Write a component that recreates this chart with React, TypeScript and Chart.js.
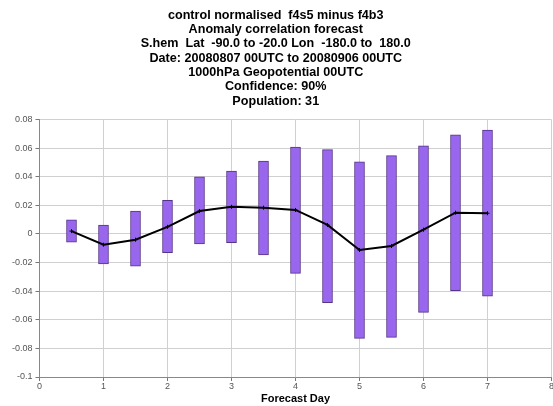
import React, { useEffect, useRef } from "react";
import { Chart, registerables } from "chart.js";

Chart.register(...registerables);

const titleLines = [
  "control normalised  f4s5 minus f4b3",
  "Anomaly correlation forecast",
  "S.hem  Lat  -90.0 to -20.0 Lon  -180.0 to  180.0",
  "Date: 20080807 00UTC to 20080906 00UTC",
  "1000hPa Geopotential 00UTC",
  "Confidence: 90%",
  "Population: 31",
];

const forecastDays = [0.5, 1, 1.5, 2, 2.5, 3, 3.5, 4, 4.5, 5, 5.5, 6, 6.5, 7];
const meanValues = [0.002, -0.0075, -0.004, 0.005, 0.016, 0.019, 0.0184, 0.0168, 0.0063, -0.0112, -0.0084, 0.003, 0.0149, 0.0145];
const lowerValues = [-0.0057, -0.021, -0.0225, -0.013, -0.007, -0.006, -0.0147, -0.0275, -0.048, -0.073, -0.0723, -0.0548, -0.0397, -0.0434];
const upperValues = [0.0098, 0.0063, 0.016, 0.0235, 0.04, 0.044, 0.051, 0.0607, 0.059, 0.0504, 0.0548, 0.0616, 0.0693, 0.0726];

const yTickValues = [-0.1, -0.08, -0.06, -0.04, -0.02, 0, 0.02, 0.04, 0.06, 0.08];
const yTickLabels = ["-0.1", "-0.08", "-0.06", "-0.04", "-0.02", "0", "0.02", "0.04", "0.06", "0.08"];
const xTickValues = [0, 1, 2, 3, 4, 5, 6, 7, 8];

export default function App() {
  const ref = useRef<HTMLCanvasElement | null>(null);

  useEffect(() => {
    document.body.style.margin = "0";
    const ctx = ref.current!.getContext("2d")!;
    const chart = new Chart(ctx, {
      type: "bar",
      data: {
        datasets: [
          {
            type: "line",
            label: "mean",
            data: forecastDays.map((d, i) => ({ x: d, y: meanValues[i] })),
            borderColor: "#000000",
            borderWidth: 2,
            pointStyle: "cross",
            pointRadius: 2,
            pointBorderWidth: 1,
            pointBorderColor: "#000000",
            tension: 0,
            order: 0,
          } as any,
          {
            type: "bar",
            label: "range",
            data: forecastDays.map((d, i) => ({ x: d, y: [lowerValues[i], upperValues[i]] })) as any,
            backgroundColor: "#9966ee",
            borderColor: "#553388",
            borderWidth: 1,
            borderSkipped: false,
            barThickness: 10,
            order: 1,
          } as any,
        ],
      },
      options: {
        animation: false,
        responsive: false,
        maintainAspectRatio: false,
        layout: { autoPadding: false, padding: { left: 0, right: 1.5, top: 0, bottom: 0 } },
        plugins: {
          legend: { display: false },
          tooltip: { enabled: false },
          title: {
            display: true,
            text: titleLines,
            color: "#000000",
            font: { family: "Liberation Sans", size: 12.6, weight: "bold", lineHeight: 1.14 },
            padding: { top: 8, bottom: 11 },
          },
        },
        scales: {
          x: {
            type: "linear",
            min: 0,
            max: 8,
            offset: false,
            afterBuildTicks: (scale: any) => {
              scale.ticks = xTickValues.map((v) => ({ value: v }));
            },
            afterFit: (scale: any) => {
              scale.height = 29;
              scale.paddingLeft = 0;
              scale.paddingRight = 0;
            },
            ticks: {
              color: "#555555",
              font: { family: "Liberation Sans", size: 9 },
              padding: 0,
              maxRotation: 0,
              autoSkip: false,
            },
            grid: { color: "#d0d0d0", tickColor: "#777777", tickLength: 4, offset: false },
            border: { color: "#888888", width: 1 },
            title: {
              display: true,
              text: "Forecast Day",
              color: "#000000",
              font: { family: "Liberation Sans", size: 11, weight: "bold" },
              padding: { top: -1, bottom: 0 },
            },
          },
          y: {
            type: "linear",
            min: -0.1,
            max: 0.08,
            afterBuildTicks: (scale: any) => {
              scale.ticks = yTickValues.map((v) => ({ value: v }));
            },
            afterFit: (scale: any) => {
              scale.width = 39.5;
            },
            ticks: {
              color: "#555555",
              font: { family: "Liberation Sans", size: 9 },
              padding: 3,
              callback: (v: any) => {
                const idx = yTickValues.findIndex((t) => Math.abs(t - Number(v)) < 1e-9);
                return idx >= 0 ? yTickLabels[idx] : "";
              },
            },
            grid: { color: "#d0d0d0", tickColor: "#777777", tickLength: 4 },
            border: { color: "#888888", width: 1 },
          },
        },
      },
    });
    return () => chart.destroy();
  }, []);

  return (
    <div style={{ position: "absolute", left: 0, top: 0, width: 553, height: 406, background: "#ffffff" }}>
      <canvas ref={ref} width={553} height={406} />
    </div>
  );
}
